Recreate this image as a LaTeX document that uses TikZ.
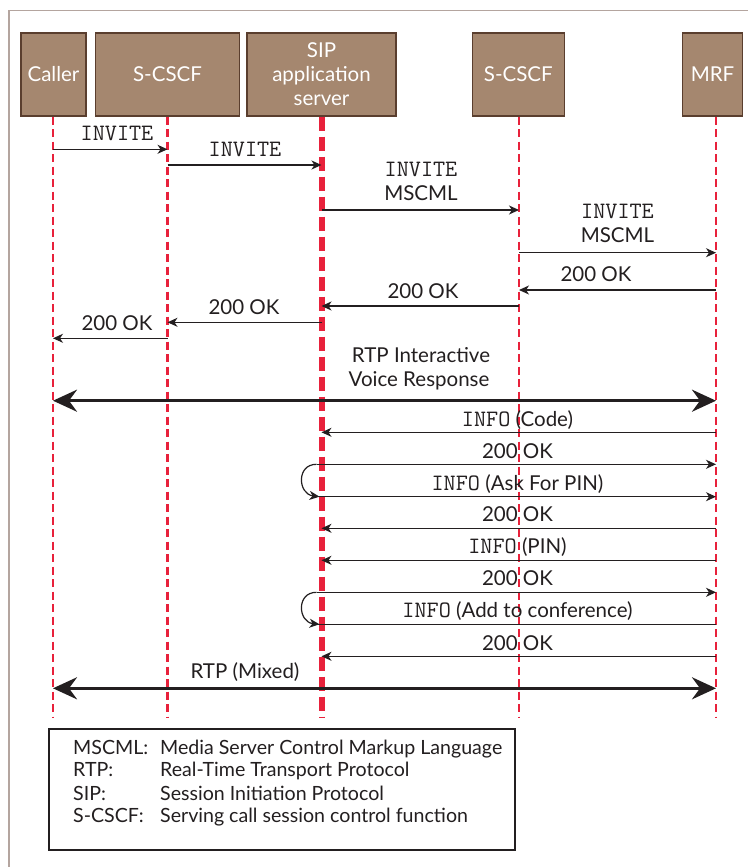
\documentclass[tikz,border=0pt]{standalone}
\usepackage{fontspec}
\setmainfont{Lato}
\usetikzlibrary{arrows.meta}

\definecolor{boxfill}{HTML}{A5876F}
\definecolor{boxedge}{HTML}{5A3E2E}
\definecolor{lifered}{HTML}{E8213B}
\definecolor{ink}{HTML}{231F20}
\definecolor{framegrey}{HTML}{B4A59F}

% SIP method names in typewriter
\newcommand\msgcode[1]{{\ttfamily\fontsize{23.5}{24}\selectfont #1}}

\begin{document}
\begin{tikzpicture}[x=1pt,y=-1pt,
  entity/.style={draw=boxedge, line width=1.2pt, fill=boxfill, text=white,
    font=\fontsize{20.5}{24}\selectfont, inner sep=0pt, align=center, minimum height=83pt},
  life/.style={draw=lifered, line width=2.5pt, dash pattern=on 8pt off 4.5pt},
  lifethick/.style={draw=lifered, line width=6pt, dash pattern=on 14pt off 6pt},
  msg/.style={draw=ink, line width=1.2pt, -{Stealth[length=10pt,width=9pt,inset=3pt]}},
  plainmsg/.style={draw=ink, line width=1.2pt},
  media/.style={draw=ink, line width=3pt,
    {Stealth[length=24pt,width=22pt,inset=8pt]}-{Stealth[length=24pt,width=22pt,inset=8pt]}},
  lbl/.style={text=ink, font=\fontsize{20.5}{24}\selectfont, inner sep=0pt, anchor=base},
  code/.style={text=ink, font=\ttfamily\fontsize{23.5}{24}\selectfont, inner sep=0pt, anchor=base},
  legendtxt/.style={text=ink, font=\fontsize{19.6}{23}\selectfont, inner sep=0pt, anchor=base west},
]
\useasboundingbox (0,0) rectangle (748,867);
\fill[white] (0,0) rectangle (748,867);

% outer frame
\draw[framegrey, line width=1.5pt] (9,867) -- (9,10.5) -- (748,10.5);

% participants
\node[entity, minimum width=65pt]    (caller) at (53.5,74.5)  {Caller};
\node[entity, minimum width=143.5pt] (scscfA) at (167.5,74.5) {S-CSCF};
\node[entity, minimum width=149pt]   (sipas)  at (321.5,74.5) {SIP\\application\\server};
\node[entity, minimum width=92pt]    (scscfB) at (518.3,74.5) {S-CSCF};
\node[entity, minimum width=60.5pt]  (mrf)    at (712.5,74.5) {MRF};

% lifeline anchors
\coordinate (Lca)  at (53,116.6);
\coordinate (Lsa)  at (167.5,116.6);
\coordinate (Lsip) at (321.5,116.6);
\coordinate (Lsb)  at (519,116.6);
\coordinate (Lmrf) at (716,116.6);
\coordinate (Eca)  at (53,717);
\coordinate (Esa)  at (167.5,717);
\coordinate (Esip) at (321.5,717);
\coordinate (Esb)  at (519,717);
\coordinate (Emrf) at (716,717);

\draw[life] (Lca) -- (Eca);
\draw[life] (Lsa) -- (Esa);
\draw[lifethick] (Lsip) -- (Esip);
\draw[life] (Lsb) -- (Esb);
\draw[life] (Lmrf) -- (Emrf);

% session set-up
\draw[msg] (Lca |- 0,149.3) -- (Lsa |- 0,149.3);
\node[code] (m1) at (117,140) {INVITE};
\draw[msg] (Lsa |- 0,165) -- (Lsip |- 0,165);
\node[code] (m2) at (245,156.7) {INVITE};
\draw[msg] (Lsip |- 0,210) -- (Lsb |- 0,210);
\node[code] (m3a) at (421,176) {INVITE};
\node[lbl]  (m3b) at (421,200) {MSCML};
\draw[msg] (Lsb |- 0,252.7) -- (Lmrf |- 0,252.7);
\node[code] (m4a) at (617.5,218) {INVITE};
\node[lbl]  (m4b) at (617.5,242.7) {MSCML};

\draw[msg] (Lmrf |- 0,290) -- (Lsb |- 0,290);
\node[lbl] (m5) at (596,281.7) {200 OK};
\draw[msg] (Lsb |- 0,306) -- (Lsip |- 0,306);
\node[lbl] (m6) at (423,298) {200 OK};
\draw[msg] (Lsip |- 0,322.3) -- (Lsa |- 0,322.3);
\node[lbl] (m7) at (244,314) {200 OK};
\draw[msg] (Lsa |- 0,338.3) -- (Lca |- 0,338.3);
\node[lbl] (m8) at (117,330) {200 OK};

% interactive voice response media
\draw[media] (Lca |- 0,400.7) -- (Lmrf |- 0,400.7);
\node[lbl] (ivr1) at (421,362) {RTP Interactive};
\node[lbl] (ivr2) at (419,386) {Voice Response};

% PIN collection via INFO
\draw[msg] (Lmrf |- 0,432.3) -- (Lsip |- 0,432.3);
\node[lbl] (i1) at (517.5,426.7) {\msgcode{INFO} (Code)};
\draw[msg] ([xshift=-5pt]Lsip |- 0,464.3) -- (Lmrf |- 0,464.3);
\node[lbl] (i2) at (517.5,458) {200 OK};
\draw[msg] ([xshift=-5pt]Lsip |- 0,464.3) .. controls (296,464.3) and (298,494) .. ([xshift=-2pt]Lsip |- 0,496.7);
\draw[msg] ([xshift=-5pt]Lsip |- 0,496.7) -- (Lmrf |- 0,496.7);
\node[lbl] (i3) at (517.5,490) {\msgcode{INFO} (Ask For PIN)};
\draw[msg] (Lmrf |- 0,528.3) -- (Lsip |- 0,528.3);
\node[lbl] (i4) at (517.5,521.7) {200 OK};
\draw[msg] (Lmrf |- 0,560.3) -- (Lsip |- 0,560.3);
\node[lbl] (i5) at (517.5,553.3) {\msgcode{INFO} (PIN)};
\draw[msg] ([xshift=-5pt]Lsip |- 0,592.3) -- (Lmrf |- 0,592.3);
\node[lbl] (i6) at (517.5,585) {200 OK};
\draw[msg] ([xshift=-5pt]Lsip |- 0,592.3) .. controls (296,592.3) and (298,622) .. ([xshift=-2pt]Lsip |- 0,624.3);
\draw[plainmsg] ([xshift=-5pt]Lsip |- 0,624.3) -- (Lmrf |- 0,624.3);
\node[lbl] (i7) at (517.5,617.3) {\msgcode{INFO} (Add to conference)};
\draw[msg] (Lmrf |- 0,656.3) -- (Lsip |- 0,656.3);
\node[lbl] (i8) at (517.5,650) {200 OK};

% conference media
\draw[media] (Lca |- 0,688.3) -- (Lmrf |- 0,688.3);
\node[lbl] (mix) at (245,678.5) {RTP (Mixed)};

% abbreviations
\node[draw=ink, line width=1.2pt, minimum width=466pt, minimum height=121pt, inner sep=0pt] (legend) at (282,789.5) {};
\node[legendtxt] (k1) at (73,754)   {MSCML:};
\node[legendtxt] (v1) at (160,754)  {Media Server Control Markup Language};
\node[legendtxt] (k2) at (73,776.7) {RTP:};
\node[legendtxt] (v2) at (160,776.7){Real-Time Transport Protocol};
\node[legendtxt] (k3) at (73,800)   {SIP:};
\node[legendtxt] (v3) at (160,800)  {Session Initiation Protocol};
\node[legendtxt] (k4) at (73,822.7) {S-CSCF:};
\node[legendtxt] (v4) at (160,822.7){Serving call session control function};
\end{tikzpicture}
\end{document}
